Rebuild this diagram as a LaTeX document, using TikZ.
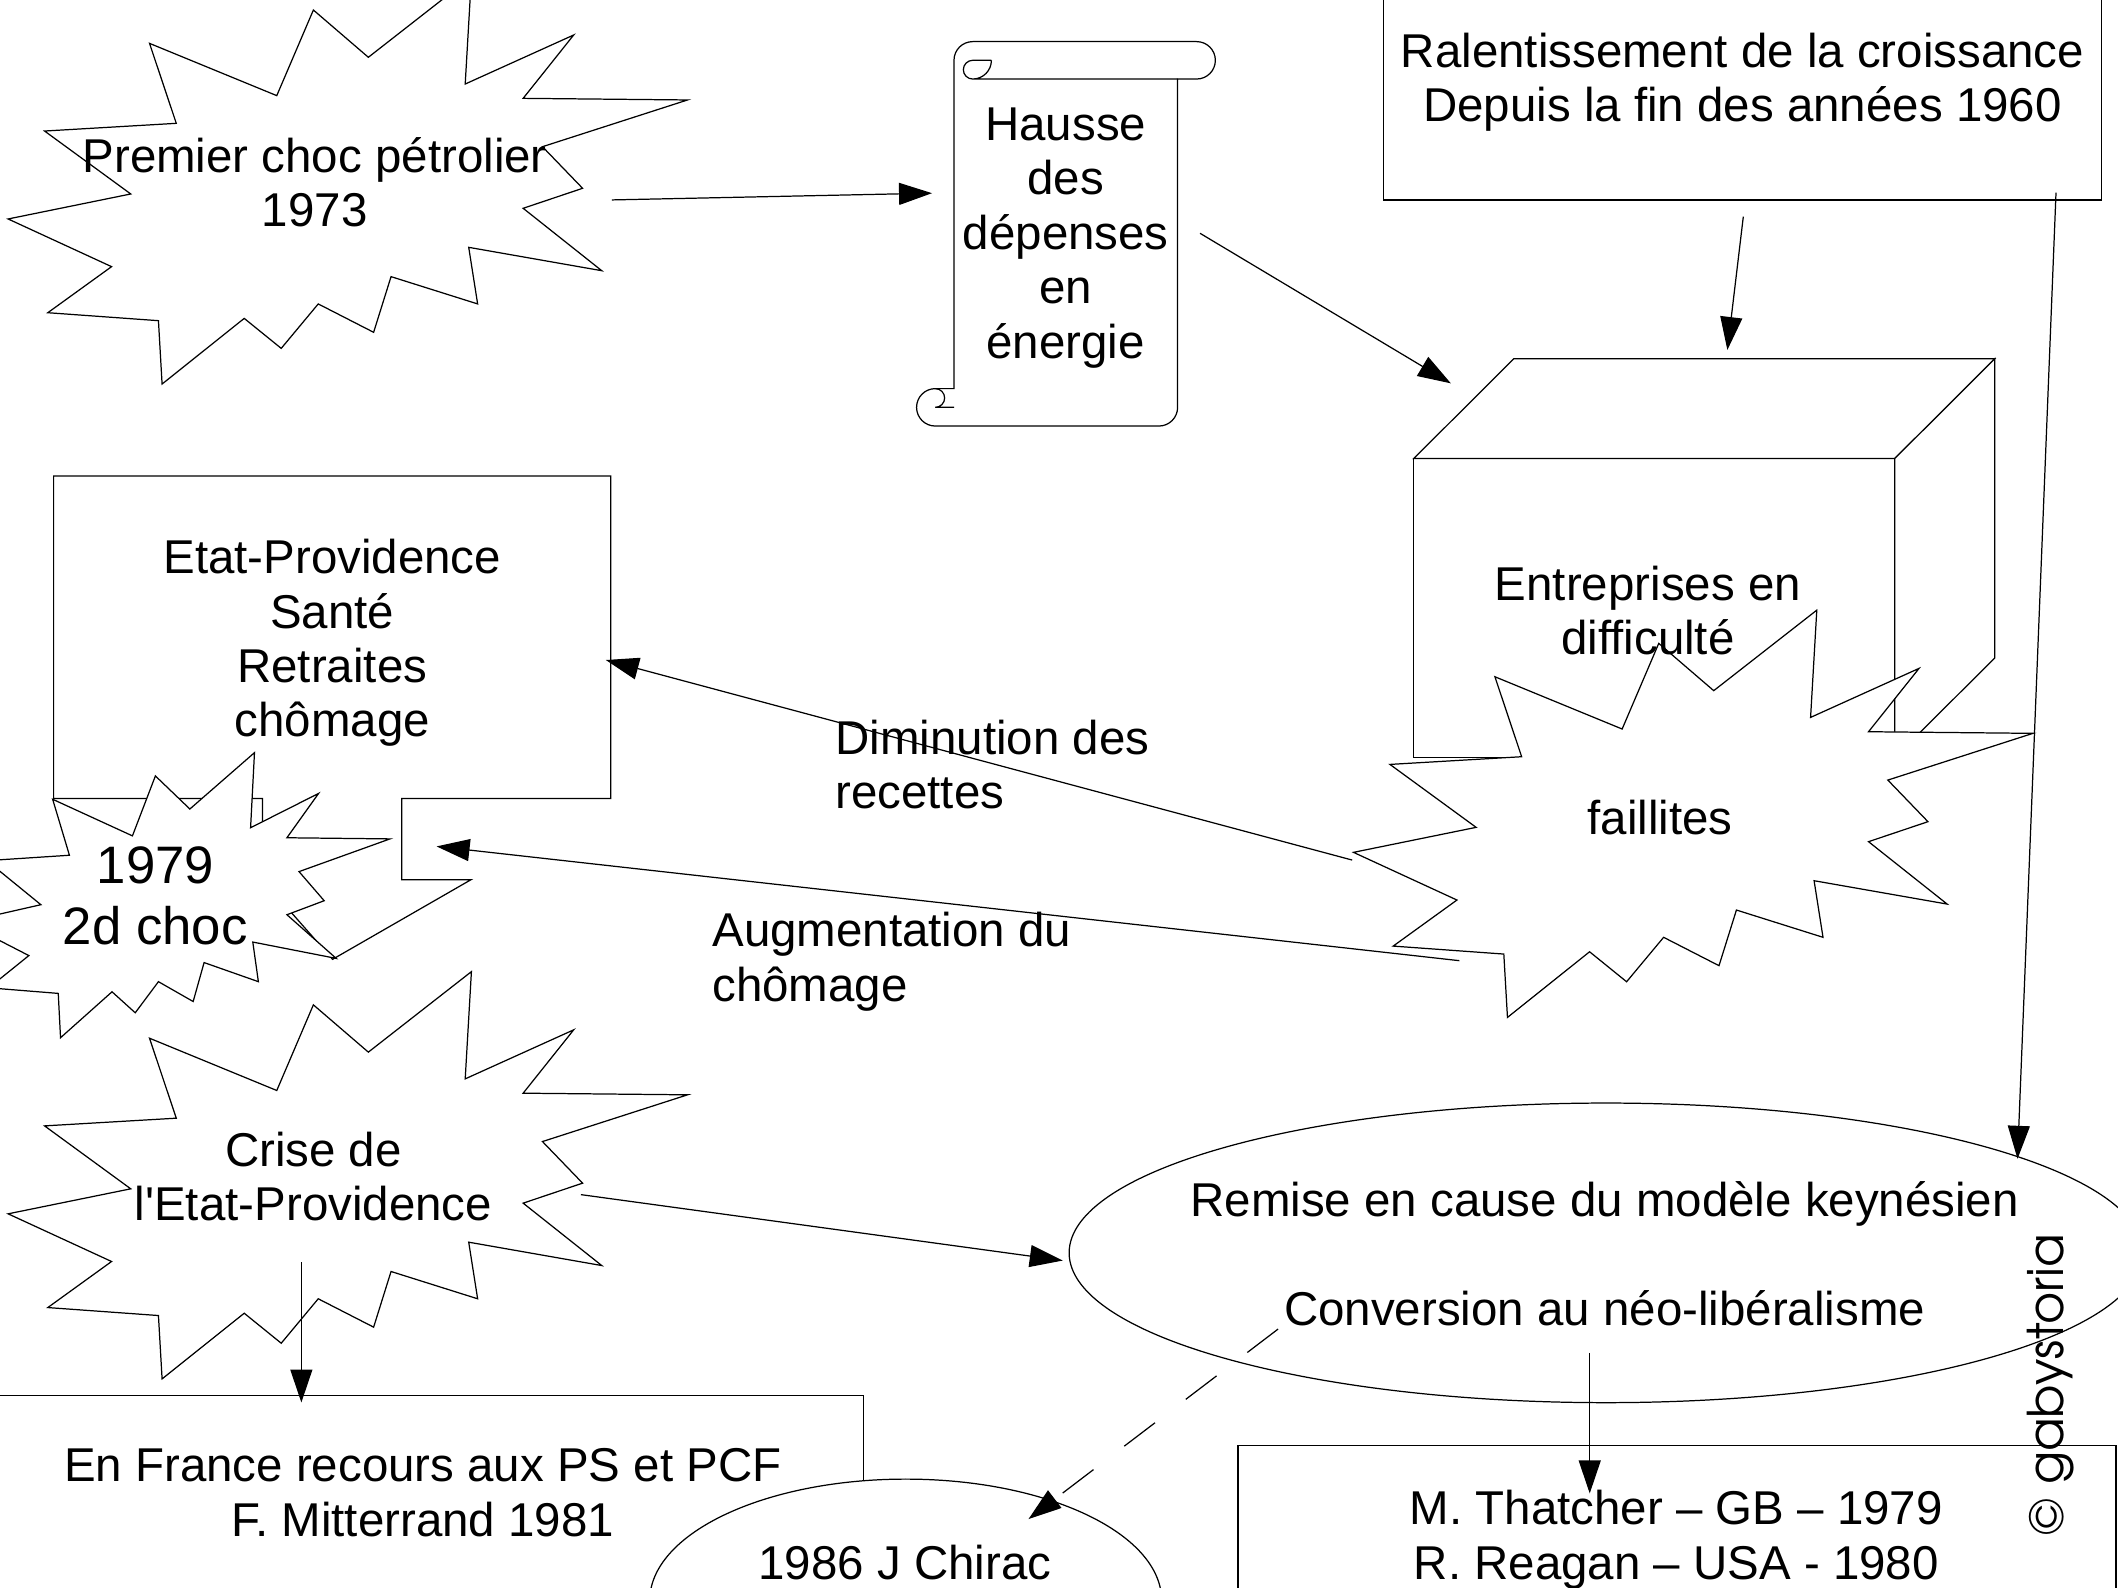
\documentclass[tikz,border=0pt]{standalone}
\usepackage{fontspec}
\setmainfont{Liberation Sans}
\newfontfamily\gabyfont{texgyreadventor-regular.otf}
\usetikzlibrary{arrows.meta}
\def\eclat{(232,7.4) -- (272.7,42.4) -- (349,-17.2) -- (344.4,62.2) -- (424.7,25.9) --
  (387.3,72.8) -- (509,74) -- (401.6,108.6) -- (431.3,139.4) -- (387.3,154.2) --
  (445.5,200.4) -- (347,183.1) -- (353.6,225) -- (289.5,204.8) -- (276.6,246) --
  (235.6,225) -- (208.2,257.9) -- (180.8,235.7) -- (120,284.3) -- (117.3,237.4) --
  (35.4,231.5) -- (82.6,197.4) -- (6,162.1) -- (96.8,143.6) -- (33,97) --
  (130.5,91.3) -- (110.7,32.1) -- (204.9,70.8) -- cycle}
\begin{document}
\begin{tikzpicture}[x=0.013508cm,y=-0.013508cm,line width=0.35pt,
  font=\fontsize{13.5}{15.5}\selectfont,
  forme/.style={draw,fill=white},
  txt/.style={align=center,inner sep=0pt},
  fleche/.style={-{Triangle[length=3.3mm,width=2.2mm]}}]
   \useasboundingbox (0,0) rectangle (1568,1175);
   \clip (0,0) rectangle (1568,1175);

   \draw[forme] \eclat;
   \draw[forme] (1024,-10) rectangle (1556,148);
   \draw[forme] (706.3,44.65) -- (706.3,287.7) -- (692.4,287.7)
   arc[start angle=-90,end angle=-270,radius=13.85] -- (857.95,315.4)
   arc[start angle=90,end angle=0,radius=13.85] -- (871.8,58.5) -- (885.9,58.5)
   arc[start angle=90,end angle=-90,radius=13.85] -- (720.1,30.8)
   arc[start angle=-90,end angle=-180,radius=13.85] -- cycle;
   \draw (733.95,44.65) -- (720.1,44.65)
   arc[start angle=-90,end angle=-270,radius=6.925] -- (871.8,58.5)
   (733.95,44.65) arc[start angle=0,end angle=90,radius=13.85]
   (692.4,287.7) arc[start angle=-90,end angle=90,radius=6.925] -- (706.3,301.55);

   \draw[forme] (1046.6,339.5) rectangle (1402.7,561);
   \draw[forme] (1046.6,339.5) -- (1120.7,265.5) -- (1476.8,265.5) -- (1402.7,339.5) -- cycle;
   \draw[forme] (1402.7,339.5) -- (1476.8,265.5) -- (1476.8,487) -- (1402.7,561) -- cycle;
   \begin{scope}[shift={(996,468.9)}]
   \draw[forme] \eclat;
   \end{scope}

   \draw[forme] (39.7,591.2) -- (39.7,352.4) -- (452.1,352.4) -- (452.1,591.2) --
   (297.4,591.2) -- (297.4,651.3) -- (348.6,651.3) -- (246.2,710.2) --
   (194.3,651.3) -- (194.3,591.2) -- cycle;
   \begin{scope}[shift={(188.4,557.2)},xscale=0.627,yscale=0.70,shift={(-349,17.2)}]
   \draw[forme] \eclat;
   \end{scope}
   \begin{scope}[shift={(0,736.5)}]
   \draw[forme] \eclat;
   \end{scope}

   \draw[forme] (-10,1033) rectangle (639.4,1200);
   \draw[forme] (670.5,1185) ellipse [x radius=189.5,y radius=90];
   \draw[forme] (1189,927.5) ellipse [x radius=397.5,y radius=110.9];
   \draw[forme] (916.5,1070) rectangle (1566.5,1200);

   \node[txt] (choc) at (233,135) {Premier choc pétrolier\\1973};
   \node[txt] (hausse) at (789,176) {Hausse\\des\\dépenses\\en\\énergie};
   \node[txt] (ralent) at (1290,61) {Ralentissement de la croissance\\Depuis la fin des années 1960};
   \node[txt] (entrep) at (1220,452) {Entreprises en\\difficulté};
   \node[txt] (faill) at (1229,605) {faillites};
   \node[txt] (etat) at (246,476) {Etat-Providence\\Santé\\Retraites\\chômage};
   \node[txt,font=\fontsize{15}{17.3}\selectfont] (choc2) at (115,663.5) {1979\\2d choc};
   \node[txt] (crise) at (232,871) {Crise de\\l\textquotesingle Etat-Providence};
   \node[txt] (france) at (313,1105) {En France recours aux PS et PCF\\F. Mitterrand 1981};
   \node[txt] (chirac) at (670,1157) {1986 J Chirac};
   \node[txt] (remise) at (1188,928) {Remise en cause du modèle keynésien\\[15.5pt]Conversion au néo-libéralisme};
   \node[txt] (thatcher) at (1241,1140) {M. Thatcher – GB – 1979\\R. Reagan – USA - 1980};
   \node[txt,anchor=west,align=left] (dimin) at (618,566) {Diminution des\\recettes};
   \node[txt,anchor=west,align=left] (augm) at (527,712) {Augmentation du\\chômage};
   \node[rotate=90,inner sep=0pt,font=\gabyfont\fontsize{14}{16}\selectfont] (gaby) at (1518,1025) {© gabystoria};

   \coordinate (choc-out) at (453,148);      \coordinate (hausse-in) at (690,143);
   \coordinate (hausse-out) at (888.4,172.7); \coordinate (entrep-in1) at (1074.1,283.8);
   \coordinate (ralent-out1) at (1290.6,160.4); \coordinate (entrep-in2) at (1278.8,259.1);
   \coordinate (ralent-out2) at (1522.1,142.6); \coordinate (remise-in1) at (1493.6,857.9);
   \coordinate (faill-out1) at (1001,636.7);  \coordinate (etat-in1) at (448.5,488.6);
   \coordinate (faill-out2) at (1080.4,711.2); \coordinate (etat-in2) at (323.2,626.6);
   \coordinate (crise-out1) at (430.1,884.4); \coordinate (remise-in2) at (786.8,933.2);
   \coordinate (crise-out2) at (223.1,934.3); \coordinate (france-in) at (223.1,1038.3);
   \coordinate (remise-out1) at (1176.9,1001.6); \coordinate (thatcher-in) at (1176.9,1105.6);
   \coordinate (remise-out2) at (946.2,983.9); \coordinate (chirac-in) at (761.4,1124.6);

   \draw[fleche] (choc-out) -- (hausse-in);
   \draw[fleche] (hausse-out) -- (entrep-in1);
   \draw[fleche] (ralent-out1) -- (entrep-in2);
   \draw[fleche] (ralent-out2) -- (remise-in1);
   \draw[fleche] (faill-out1) -- (etat-in1);
   \draw[fleche] (faill-out2) -- (etat-in2);
   \draw[fleche] (crise-out1) -- (remise-in2);
   \draw[fleche] (crise-out2) -- (france-in);
   \draw[fleche] (remise-out1) -- (thatcher-in);
   \draw[fleche,dash pattern=on 11pt off 11pt] (remise-out2) -- (chirac-in);
 \end{tikzpicture}
\end{document}
